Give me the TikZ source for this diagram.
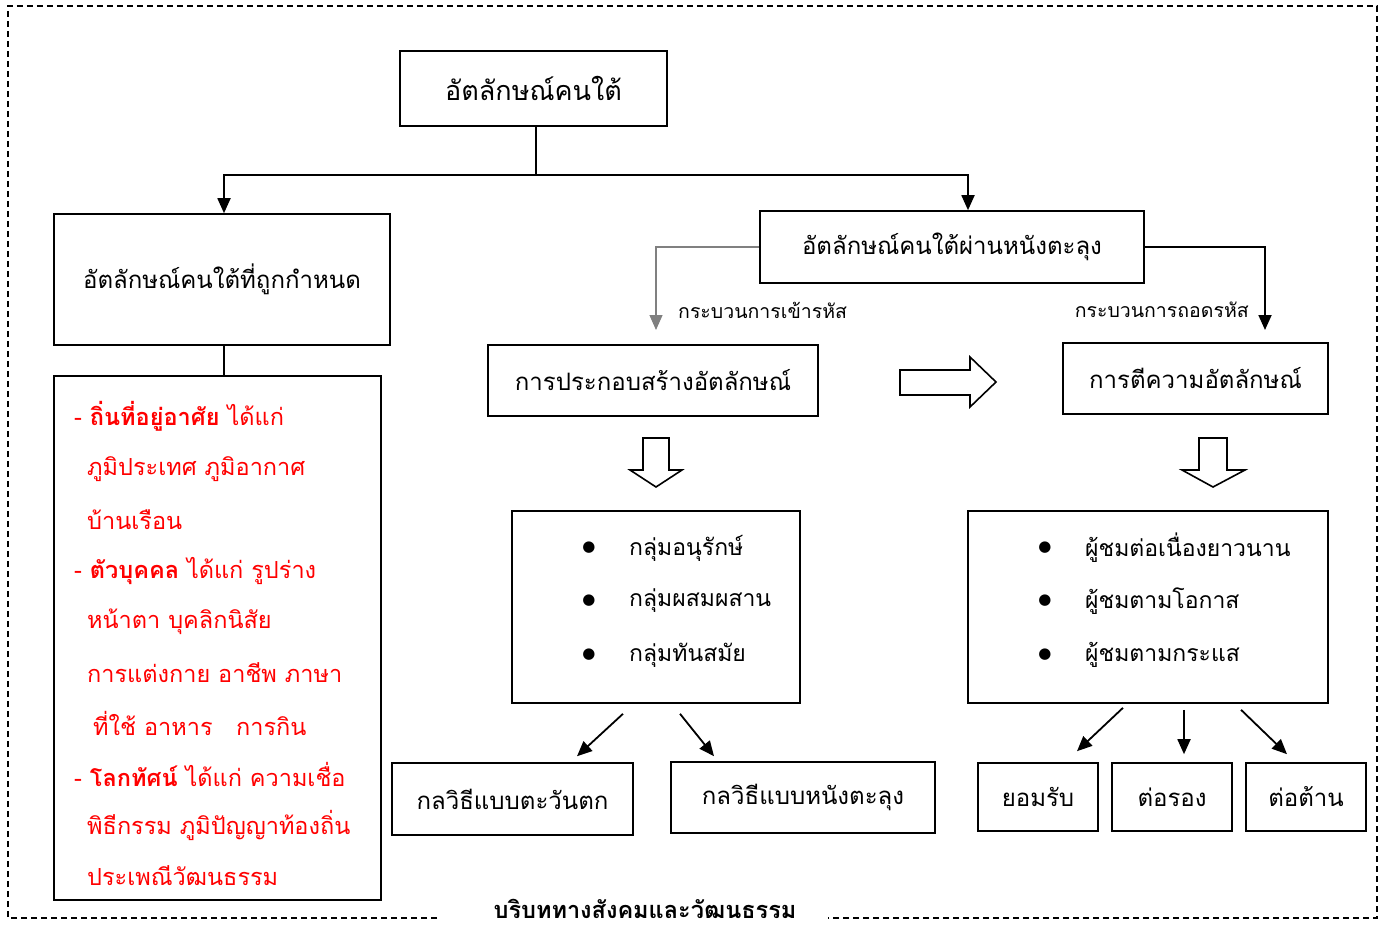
\documentclass[tikz,border=0pt]{standalone}
\usepackage{fontspec}
\usetikzlibrary{arrows.meta}
\newfontfamily\thai[Script=Thai]{Loma}
\newfontfamily\sym{DejaVu Sans}
\begin{document}
\begin{tikzpicture}[x=1pt,y=-1pt,
  box/.style={draw, line width=1.6pt, inner sep=0pt, font=\thai\fontsize{24}{28}\selectfont},
  conn/.style={line width=1.8pt, -{Triangle[length=15pt,width=13pt]}},
  plain/.style={line width=1.6pt},
  redtxt/.style={anchor=west, inner sep=0pt, text=red, font=\thai\fontsize{23.5}{28}\selectfont},
  lbl/.style={inner sep=0pt, font=\thai\fontsize{19.5}{23}\selectfont},
  bul/.style={inner sep=0pt, font=\sym\fontsize{15}{17}\selectfont},
  btxt/.style={anchor=west, inner sep=0pt, font=\thai\fontsize{23}{27}\selectfont},
  blockarrow/.style={draw, line width=1.6pt, fill=white},
  frame/.style={line width=1.2pt, dash pattern=on 6pt off 4pt}]
\useasboundingbox (0,0) rectangle (1387,931);
% outer dashed frame
\draw[frame] (437,918) -- (8,918) -- (8,6) -- (1377,6) -- (1377,918) -- (828,918);
\node[inner sep=0pt, font=\thai\bfseries\fontsize{23.5}{27}\selectfont] (ctx) at (645,909) {บริบททางสังคมและวัฒนธรรม};

% boxes
\node[box, minimum width=267pt, minimum height=75pt, font=\thai\fontsize{27}{31}\selectfont] (top) at (533.5,88.5) {อัตลักษณ์คนใต้};
\node[box, minimum width=336pt, minimum height=131pt] (fixed) at (222,279.5) {อัตลักษณ์คนใต้ที่ถูกกำหนด};
\node[box, minimum width=327pt, minimum height=524pt] (detail) at (217.5,638) {};
\node[box, minimum width=384pt, minimum height=72pt] (mid) at (952,247) {อัตลักษณ์คนใต้ผ่านหนังตะลุง};
\node[box, minimum width=330pt, minimum height=71pt] (build) at (653,380.5) {การประกอบสร้างอัตลักษณ์};
\node[box, minimum width=265pt, minimum height=71pt] (interp) at (1195.5,378.5) {การตีความอัตลักษณ์};
\node[box, minimum width=288pt, minimum height=192pt] (grp) at (656,607) {};
\node[box, minimum width=360pt, minimum height=192pt] (aud) at (1148,607) {};
\node[box, minimum width=241pt, minimum height=72pt] (west) at (512.5,799) {กลวิธีแบบตะวันตก};
\node[box, minimum width=264pt, minimum height=71pt] (nang) at (803,797.5) {กลวิธีแบบหนังตะลุง};
\node[box, minimum width=120pt, minimum height=68pt] (acc) at (1038,797) {ยอมรับ};
\node[box, minimum width=120pt, minimum height=68pt] (neg) at (1172,797) {ต่อรอง};
\node[box, minimum width=120pt, minimum height=68pt] (res) at (1306,797) {ต่อต้าน};

% red text
\node[redtxt] (r1) at (74,416) {- \textbf{ถิ่นที่อยู่อาศัย} ได้แก่};
\node[redtxt] (r2) at (87,469) {ภูมิประเทศ ภูมิอากาศ};
\node[redtxt] (r3) at (87,520) {บ้านเรือน};
\node[redtxt] (r4) at (74,571) {- \textbf{ตัวบุคคล} ได้แก่ รูปร่าง};
\node[redtxt] (r5) at (87,622) {หน้าตา บุคลิกนิสัย};
\node[redtxt] (r6) at (87,673) {การแต่งกาย อาชีพ ภาษา};
\node[redtxt] (r7) at (93,723) {ที่ใช้ อาหาร\quad การกิน};
\node[redtxt] (r8) at (74,774) {- \textbf{โลกทัศน์} ได้แก่ ความเชื่อ};
\node[redtxt] (r9) at (87,825) {พิธีกรรม ภูมิปัญญาท้องถิ่น};
\node[redtxt] (r10) at (87,876) {ประเพณีวัฒนธรรม};

% bullets
\node[bul] (b1) at (589,548) {●};
\node[btxt] (g1) at (629,548) {กลุ่มอนุรักษ์};
\node[bul] (b2) at (589,601) {●};
\node[btxt] (g2) at (629,601) {กลุ่มผสมผสาน};
\node[bul] (b3) at (589,655) {●};
\node[btxt] (g3) at (629,655) {กลุ่มทันสมัย};
\node[bul] (b4) at (1045,548) {●};
\node[btxt] (a1) at (1085,548) {ผู้ชมต่อเนื่องยาวนาน};
\node[bul] (b5) at (1045,601) {●};
\node[btxt] (a2) at (1085,601) {ผู้ชมตามโอกาส};
\node[bul] (b6) at (1045,655) {●};
\node[btxt] (a3) at (1085,655) {ผู้ชมตามกระแส};

% labels
\node[lbl, anchor=west] (enc) at (678,310) {กระบวนการเข้ารหัส};
\node[lbl, anchor=east] (dec) at (1249,310) {กระบวนการถอดรหัส};

% connectors
\coordinate (j) at (536,175);
\draw[plain] (j |- top.south) -- (j);
\draw[conn] (j) -| ([xshift=2pt]fixed.north);
\draw[conn] (j) -| ([xshift=16pt]mid.north);
\draw[plain] ([xshift=2pt]fixed.south) -- ([xshift=2pt]fixed.south |- detail.north);
\coordinate (encend) at (656,330);
\coordinate (decend) at (1265,330);
\draw[conn, gray, line width=1.3pt] (mid.west) -| (encend);
\draw[conn] (mid.east) -| (decend);

% block arrows
\draw[blockarrow] (900,370) -- (970,370) -- (970,357) -- (996,382) -- (970,407) -- (970,395) -- (900,395) -- cycle;
\draw[blockarrow] (643,438) -- (669,438) -- (669,470) -- (682,470) -- (656,487) -- (630,470) -- (643,470) -- cycle;
\draw[blockarrow] (1199,438) -- (1227,438) -- (1227,470) -- (1245,470) -- (1213,487) -- (1182,470) -- (1199,470) -- cycle;

% diagonal arrows
\draw[conn] ([xshift=-33pt,yshift=-10pt]grp.south) -- ([xshift=64.5pt,yshift=6pt]west.north);
\draw[conn] ([xshift=24pt,yshift=-10pt]grp.south) -- ([xshift=-89pt,yshift=5pt]nang.north);
\draw[conn] ([xshift=-25pt,yshift=-4pt]aud.south) -- ([xshift=39pt,yshift=11pt]acc.north);
\draw[conn] ([xshift=36pt,yshift=-6pt]aud.south) -- ([xshift=12pt,yshift=8pt]neg.north);
\draw[conn] ([xshift=93pt,yshift=-6pt]aud.south) -- ([xshift=-19pt,yshift=8pt]res.north);
\end{tikzpicture}
\end{document}
